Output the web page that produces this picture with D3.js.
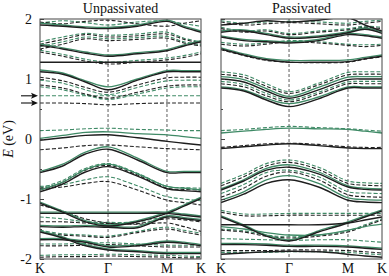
<!DOCTYPE html>
<html><head><meta charset="utf-8">
<script src="https://cdn.jsdelivr.net/npm/d3@7"></script>
<style>body{margin:0;background:#fff}svg{display:block}text{font-family:"Liberation Serif","DejaVu Serif",serif}</style>
</head><body>
<svg id="c" width="389" height="276"></svg>
<script>
// k-path sample positions (K, ., ., Γ, ., M, ., K)
const kPos = [0, 0.141, 0.282, 0.4226, 0.6056, 0.7887, 0.894, 1];
const kLabels = ["K", "Γ", "M", "K"];
const kLabelPos = [0, 0.4226, 0.7887, 1];
const yMajor = [-2, -1, 0, 1, 2];
const yMinor = [-1.5, -0.5, 0.5, 1.5];
const titles = ["Unpassivated", "Passivated"];
const arrowLevels = [0.72, 0.60];

// Unpassivated
const unpBlackSolid = [
  [1.90, 1.88, 1.85, 1.84, 1.88, 1.96, 1.86, 1.78],
  [1.56, 1.50, 1.43, 1.38, 1.42, 1.47, 1.55, 1.62],
  [1.28, 1.28, 1.28, 1.28, 1.28, 1.28, 1.28, 1.28],
  [1.12, 1.08, 0.95, 0.82, 0.98, 1.12, 1.12, 1.12],
  [-0.02, 0.02, 0.06, 0.07, 0.02, -0.04, -0.07, -0.10],
  [-0.56, -0.45, -0.25, -0.17, -0.35, -0.56, -0.56, -0.56],
  [-0.88, -0.75, -0.55, -0.46, -0.62, -0.83, -0.86, -0.88],
  [-1.07, -1.22, -1.38, -1.45, -1.38, -1.24, -1.12, -0.99],
  [-1.24, -1.24, -1.24, -1.24, -1.24, -1.24, -1.27, -1.30],
  [-1.46, -1.47, -1.46, -1.47, -1.48, -1.30, -1.33, -1.36],
  [-1.68, -1.68, -1.72, -1.80, -1.78, -1.72, -1.74, -1.78],
  [-1.55, -1.65, -1.78, -1.85, -1.88, -1.91, -1.91, -1.91]
];
const unpGreenSolid = [
  [1.93, 1.90, 1.87, 1.86, 1.90, 1.98, 1.88, 1.80],
  [1.58, 1.52, 1.45, 1.40, 1.44, 1.49, 1.57, 1.64],
  [1.15, 1.10, 0.97, 0.87, 1.00, 1.14, 1.14, 1.14],
  [0.01, 0.06, 0.11, 0.12, 0.09, 0.07, 0.04, 0.01],
  [-0.54, -0.42, -0.22, -0.13, -0.32, -0.54, -0.54, -0.54],
  [-0.85, -0.72, -0.51, -0.42, -0.58, -0.79, -0.82, -0.85],
  [-1.05, -1.20, -1.36, -1.43, -1.36, -1.22, -1.10, -0.97],
  [-1.22, -1.22, -1.22, -1.22, -1.22, -1.22, -1.25, -1.28],
  [-1.44, -1.45, -1.44, -1.45, -1.46, -1.28, -1.31, -1.34],
  [-1.66, -1.66, -1.70, -1.78, -1.76, -1.70, -1.72, -1.76],
  [-1.53, -1.63, -1.76, -1.83, -1.86, -1.89, -1.89, -1.89]
];
const unpBlackDashed = [
  [1.95, 1.92, 1.96, 1.98, 1.92, 1.88, 1.93, 1.97],
  [1.58, 1.66, 1.74, 1.70, 1.72, 1.75, 1.66, 1.60],
  [1.50, 1.58, 1.67, 1.64, 1.66, 1.68, 1.60, 1.55],
  [1.45, 1.38, 1.30, 1.25, 1.28, 1.32, 1.36, 1.42],
  [1.03, 0.97, 0.86, 0.78, 0.90, 1.02, 1.03, 1.03],
  [0.90, 0.85, 0.75, 0.68, 0.78, 0.88, 0.90, 0.90],
  [0.60, 0.60, 0.59, 0.57, 0.59, 0.60, 0.60, 0.60],
  [-0.18, -0.15, -0.11, -0.10, -0.13, -0.16, -0.17, -0.18],
  [-0.85, -0.72, -0.52, -0.44, -0.60, -0.82, -0.84, -0.85],
  [-0.82, -0.80, -0.74, -0.71, -0.85, -1.02, -1.06, -1.10],
  [-1.10, -1.20, -1.33, -1.40, -1.42, -1.40, -1.46, -1.54],
  [-1.38, -1.38, -1.40, -1.41, -1.41, -1.33, -1.35, -1.38],
  [-1.55, -1.60, -1.62, -1.64, -1.56, -1.50, -1.55, -1.60],
  [-1.78, -1.78, -1.77, -1.76, -1.78, -1.80, -1.80, -1.80],
  [-1.97, -1.96, -1.96, -1.95, -1.96, -1.97, -1.98, -1.98]
];
const unpGreenDashed = [
  [1.93, 1.97, 1.94, 1.90, 1.95, 1.97, 1.92, 1.88],
  [1.62, 1.70, 1.76, 1.73, 1.75, 1.78, 1.68, 1.62],
  [1.54, 1.62, 1.70, 1.67, 1.69, 1.71, 1.62, 1.57],
  [1.48, 1.41, 1.33, 1.28, 1.31, 1.35, 1.39, 1.45],
  [0.98, 0.93, 0.82, 0.74, 0.86, 0.97, 0.98, 0.98],
  [0.87, 0.82, 0.73, 0.66, 0.75, 0.85, 0.87, 0.87],
  [0.72, 0.72, 0.72, 0.72, 0.72, 0.72, 0.72, 0.72],
  [0.14, 0.15, 0.17, 0.18, 0.16, 0.15, 0.14, 0.14],
  [-0.82, -0.69, -0.49, -0.41, -0.57, -0.79, -0.81, -0.82],
  [-0.79, -0.76, -0.68, -0.63, -0.78, -0.96, -1.00, -1.03],
  [-1.30, -1.33, -1.38, -1.39, -1.38, -1.30, -1.33, -1.36],
  [-1.52, -1.58, -1.60, -1.62, -1.54, -1.47, -1.52, -1.57],
  [-1.75, -1.75, -1.74, -1.73, -1.75, -1.77, -1.77, -1.77],
  [-1.94, -1.93, -1.93, -1.92, -1.93, -1.94, -1.95, -1.96]
];

// Passivated
const pasBlackSolid = [
  [1.90, 1.93, 1.97, 1.95, 1.98, 2.02, 1.90, 1.80],
  [1.70, 1.64, 1.62, 1.60, 1.64, 1.74, 1.72, 1.68],
  [1.78, 1.80, 1.74, 1.68, 1.70, 1.77, 1.83, 1.76],
  [1.50, 1.40, 1.32, 1.28, 1.28, 1.29, 1.34, 1.38],
  [1.00, 0.95, 0.80, 0.68, 0.82, 0.99, 1.00, 1.00],
  [0.85, 0.80, 0.65, 0.54, 0.67, 0.85, 0.85, 0.85],
  [-0.16, -0.13, -0.10, -0.08, -0.11, -0.15, -0.16, -0.16],
  [-0.85, -0.70, -0.52, -0.47, -0.58, -0.80, -0.84, -0.85],
  [-1.06, -0.92, -0.74, -0.68, -0.80, -1.02, -1.05, -1.06],
  [-1.30, -1.45, -1.62, -1.70, -1.55, -1.40, -1.30, -1.20],
  [-1.43, -1.43, -1.43, -1.43, -1.43, -1.40, -1.35, -1.30],
  [-1.76, -1.76, -1.77, -1.79, -1.79, -1.80, -1.82, -1.84],
  [-1.92, -1.90, -1.88, -1.87, -1.88, -1.92, -1.95, -1.97]
];
const pasGreenSolid = [
  [1.72, 1.66, 1.64, 1.62, 1.66, 1.76, 1.74, 1.70],
  [1.80, 1.82, 1.76, 1.70, 1.72, 1.79, 1.85, 1.78],
  [1.52, 1.42, 1.34, 1.31, 1.31, 1.32, 1.36, 1.40],
  [1.04, 0.99, 0.84, 0.71, 0.86, 1.03, 1.04, 1.04],
  [0.87, 0.82, 0.68, 0.59, 0.70, 0.87, 0.87, 0.87],
  [0.10, 0.13, 0.16, 0.18, 0.17, 0.16, 0.13, 0.10],
  [-0.83, -0.68, -0.49, -0.43, -0.55, -0.78, -0.82, -0.83],
  [-1.02, -0.88, -0.68, -0.61, -0.74, -0.98, -1.01, -1.02],
  [-1.28, -1.43, -1.60, -1.68, -1.53, -1.38, -1.28, -1.18],
  [-1.46, -1.50, -1.56, -1.60, -1.60, -1.52, -1.46, -1.42],
  [-1.74, -1.74, -1.75, -1.77, -1.77, -1.78, -1.80, -1.82]
];
const pasBlackDashed = [
  [1.95, 1.90, 1.92, 1.94, 1.92, 1.90, 1.93, 1.96],
  [1.84, 1.78, 1.80, 1.74, 1.78, 1.82, 1.86, 1.84],
  [1.58, 1.55, 1.58, 1.62, 1.60, 1.56, 1.54, 1.56],
  [1.49, 1.39, 1.31, 1.28, 1.27, 1.28, 1.33, 1.37],
  [1.08, 1.03, 0.88, 0.76, 0.90, 1.07, 1.08, 1.08],
  [0.92, 0.87, 0.72, 0.62, 0.75, 0.92, 0.92, 0.92],
  [-0.14, -0.11, -0.08, -0.07, -0.09, -0.13, -0.14, -0.14],
  [-0.78, -0.63, -0.45, -0.39, -0.51, -0.74, -0.77, -0.78],
  [-0.97, -0.82, -0.62, -0.55, -0.68, -0.93, -0.96, -0.97],
  [-1.22, -1.28, -1.28, -1.27, -1.27, -1.27, -1.27, -1.27],
  [-1.52, -1.55, -1.62, -1.65, -1.62, -1.55, -1.45, -1.35],
  [-1.86, -1.86, -1.86, -1.85, -1.85, -1.86, -1.88, -1.90]
];
const pasGreenDashed = [
  [1.97, 1.93, 1.95, 1.96, 1.95, 1.93, 1.96, 1.98],
  [1.86, 1.80, 1.82, 1.76, 1.80, 1.84, 1.88, 1.86],
  [1.61, 1.58, 1.60, 1.64, 1.62, 1.58, 1.57, 1.58],
  [1.12, 1.07, 0.92, 0.79, 0.93, 1.11, 1.12, 1.12],
  [0.96, 0.91, 0.76, 0.65, 0.78, 0.95, 0.96, 0.96],
  [0.14, 0.16, 0.19, 0.21, 0.19, 0.17, 0.15, 0.13],
  [-0.74, -0.59, -0.41, -0.35, -0.47, -0.70, -0.73, -0.74],
  [-0.91, -0.76, -0.56, -0.52, -0.63, -0.88, -0.90, -0.91],
  [-1.19, -1.25, -1.25, -1.24, -1.24, -1.24, -1.24, -1.24],
  [-1.50, -1.53, -1.60, -1.63, -1.60, -1.53, -1.43, -1.33],
  [-1.66, -1.67, -1.68, -1.69, -1.68, -1.68, -1.70, -1.72],
  [-1.89, -1.89, -1.89, -1.88, -1.88, -1.89, -1.91, -1.93]
];

const panels = [
  {x0: 40, x1: 201, labels: true, sets: [unpGreenDashed, unpBlackDashed, unpGreenSolid, unpBlackSolid]},
  {x0: 221, x1: 382, labels: false, sets: [pasGreenDashed, pasBlackDashed, pasGreenSolid, pasBlackSolid]}
];
const styles = [
  {stroke: "#3f8a66", w: 1.1, dash: "4,2"},
  {stroke: "#222", w: 1.1, dash: "4,2"},
  {stroke: "#3f8a66", w: 1.3, dash: null},
  {stroke: "#1e1e1e", w: 1.4, dash: null}
];

const svg = d3.select("#c");
const yTop = 19, yBot = 259;
const y = d3.scaleLinear().domain([-2, 2]).range([yBot, yTop]);
const defs = svg.append("defs");

panels.forEach((p, pi) => {
  const x = d3.scaleLinear().domain([0, 1]).range([p.x0, p.x1]);
  const g = svg.append("g");
  defs.append("clipPath").attr("id", "clip" + pi).append("rect")
    .attr("x", p.x0).attr("y", yTop).attr("width", p.x1 - p.x0).attr("height", yBot - yTop);

  g.selectAll(".vl").data(kLabelPos.slice(1, 3)).join("line")
    .attr("x1", d => x(d)).attr("x2", d => x(d)).attr("y1", yTop).attr("y2", yBot)
    .attr("stroke", "#333").attr("stroke-width", 0.8).attr("stroke-dasharray", "3,2");

  const line = d3.line().x((d, i) => x(kPos[i])).y(d => y(d)).curve(d3.curveCatmullRom.alpha(0.5));
  const bg = g.append("g").attr("clip-path", `url(#clip${pi})`);
  p.sets.forEach((set, si) => {
    const st = styles[si];
    bg.append("g").selectAll("path").data(set).join("path")
      .attr("d", line).attr("fill", "none").attr("stroke", st.stroke)
      .attr("stroke-width", st.w).attr("stroke-dasharray", st.dash);
  });

  g.append("rect").attr("x", p.x0).attr("y", yTop).attr("width", p.x1 - p.x0).attr("height", yBot - yTop)
    .attr("fill", "none").attr("stroke", "#444").attr("stroke-width", 1);

  const ax = d3.axisLeft(y).tickValues(yMajor).tickSize(-4).tickPadding(8)
    .tickFormat(p.labels ? (d => d < 0 ? "-" + Math.abs(d) : d) : "");
  const ag = g.append("g").attr("transform", `translate(${p.x0},0)`).call(ax);
  ag.select(".domain").remove();
  ag.selectAll("line").attr("stroke", "#444");
  ag.selectAll("text").attr("font-size", 14).attr("fill", "#111");
  const am = g.append("g").attr("transform", `translate(${p.x0},0)`)
    .call(d3.axisLeft(y).tickValues(yMinor).tickSize(-2).tickFormat(""));
  am.select(".domain").remove();
  am.selectAll("line").attr("stroke", "#444");

  g.selectAll(".xl").data(kLabels).join("text")
    .attr("x", (d, i) => x(kLabelPos[i])).attr("y", 273).attr("text-anchor", "middle")
    .attr("font-size", 14).attr("fill", "#111").text(d => d);

  g.append("text").attr("x", (p.x0 + p.x1) / 2).attr("y", 13).attr("text-anchor", "middle")
    .attr("font-size", 14).attr("fill", "#111").text(titles[pi]);
});

// arrows
const ar = svg.append("g");
ar.selectAll("line").data(arrowLevels).join("line")
  .attr("x1", 21).attr("x2", 33).attr("y1", d => y(d)).attr("y2", d => y(d))
  .attr("stroke", "#111").attr("stroke-width", 1.1);
ar.selectAll("path").data(arrowLevels).join("path")
  .attr("d", d => `M${38},${y(d)} L${31},${y(d) - 3} L${32.5},${y(d)} L${31},${y(d) + 3} Z`)
  .attr("fill", "#111");

const yl = svg.append("text").attr("transform", `translate(13,${y(0)}) rotate(-90)`)
  .attr("text-anchor", "middle").attr("font-size", 14).attr("fill", "#111");
yl.append("tspan").attr("font-style", "italic").text("E");
yl.append("tspan").text(" (eV)");
</script>
</body></html>
